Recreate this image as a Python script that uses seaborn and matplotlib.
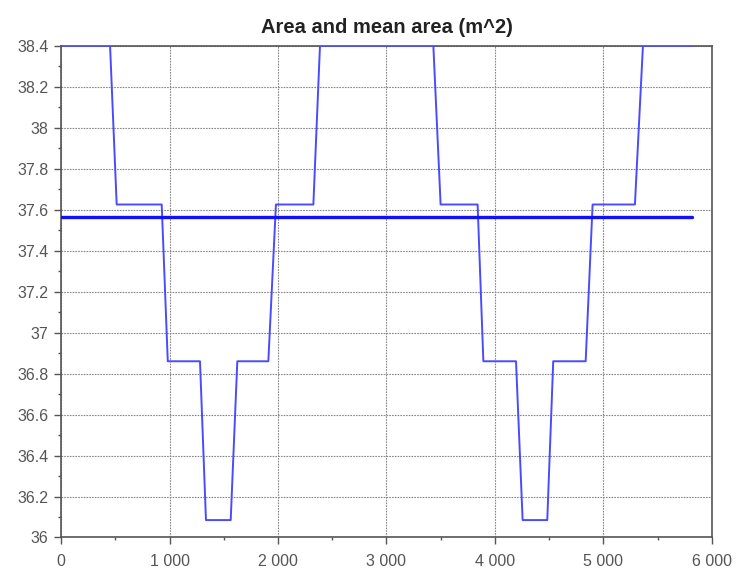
import matplotlib
matplotlib.use("Agg")
import matplotlib.pyplot as plt
import matplotlib.ticker as mticker
import seaborn as sns
import pandas as pd

# Area series (corner points)
area_x = [0, 452, 513, 928, 984, 1281, 1336, 1564, 1625, 1911, 1981, 2326, 2387,
          3432, 3499, 3840, 3893, 4194, 4255, 4482, 4537, 4836, 4900, 5290, 5364, 5816]
area_y = [38.40, 38.40, 37.625, 37.625, 36.86, 36.86, 36.085, 36.085, 36.86, 36.86,
          37.625, 37.625, 38.40, 38.40, 37.625, 37.625, 36.86, 36.86, 36.085, 36.085,
          36.86, 36.86, 37.625, 37.625, 38.40, 38.40]
mean_x = [0, 5816]
mean_y = [37.563, 37.563]

title = "Area and mean area (m^2)"
x_ticks = [0, 1000, 2000, 3000, 4000, 5000, 6000]
y_ticks = [36, 36.2, 36.4, 36.6, 36.8, 37, 37.2, 37.4, 37.6, 37.8, 38, 38.2, 38.4]

sns.set_style("white")
plt.rcParams['font.family'] = ['Liberation Sans', 'DejaVu Sans']

fig = plt.figure(figsize=(7.37, 5.74), dpi=100)
ax = fig.add_axes([0.0828, 0.0636, 0.8832, 0.8568])

df_area = pd.DataFrame({"x": area_x, "y": area_y})
df_mean = pd.DataFrame({"x": mean_x, "y": mean_y})
sns.lineplot(data=df_area, x="x", y="y", ax=ax, color="#4a4aff", lw=1.4,
             estimator=None, sort=False, zorder=3)
sns.lineplot(data=df_mean, x="x", y="y", ax=ax, color="#1010ff", lw=2.4,
             estimator=None, sort=False, zorder=4)

ax.set_xlim(0, 6000)
ax.set_ylim(36, 38.4)
ax.set_xticks(x_ticks)
ax.set_yticks(y_ticks)
ax.xaxis.set_minor_locator(mticker.MultipleLocator(500))
ax.yaxis.set_minor_locator(mticker.MultipleLocator(0.1))
ax.xaxis.set_major_formatter(mticker.FuncFormatter(
    lambda v, p: f"{int(v):,}".replace(",", " ")))
ax.yaxis.set_major_formatter(mticker.FuncFormatter(
    lambda v, p: f"{v:.1f}".rstrip("0").rstrip(".")))

ax.grid(True, which="major", color="#888888", linestyle=(0, (1.5, 1)), lw=0.8)
ax.set_axisbelow(True)
for s in ax.spines.values():
    s.set_color("#555555")
    s.set_linewidth(1.2)
ax.tick_params(which="major", direction="out", length=5, width=1, color="#555555",
               labelsize=11.5, labelcolor="#555555", left=True, bottom=True)
ax.tick_params(which="minor", direction="out", length=2.5, width=1, color="#555555",
               left=True, bottom=True)
ax.tick_params(axis="x", which="major", pad=7)
ax.tick_params(axis="y", which="major", pad=4)
ax.set_xlabel("")
ax.set_ylabel("")
ax.set_title(title, fontsize=14.5, fontweight="bold", pad=9, color="#222222")

fig.savefig("out.png", dpi=100)
